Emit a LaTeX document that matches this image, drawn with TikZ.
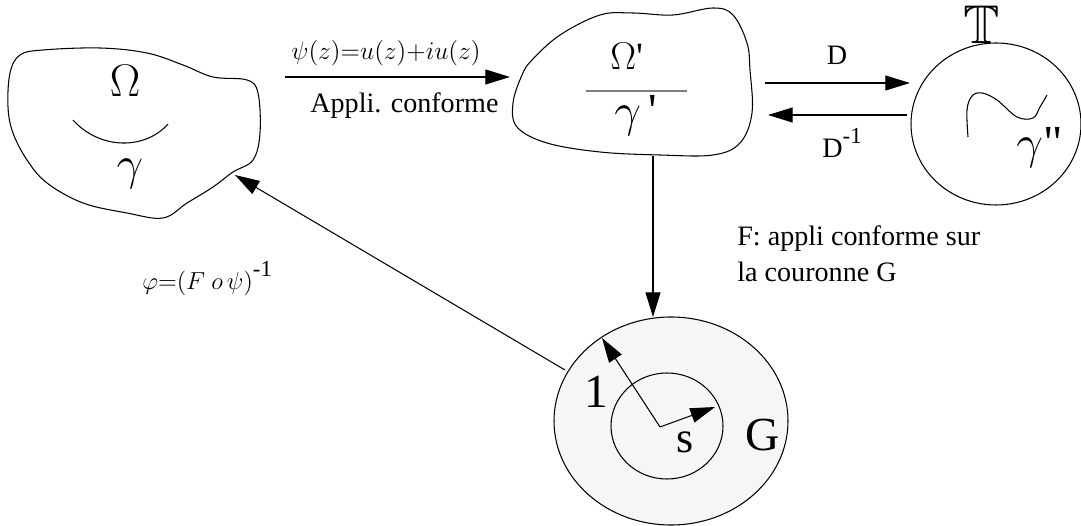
\RequirePackage{fix-cm}
\documentclass[tikz,border=0pt]{standalone}
\usepackage{amsmath,amssymb}
\usepackage{fontspec}
\setmainfont{Liberation Serif}
\usetikzlibrary{arrows.meta}
\definecolor{ringgray}{HTML}{F6F6F6}
\definecolor{bargray}{HTML}{808080}
\tikzset{
  outline/.style={line width=0.6pt,draw=black},
  map/.style={-{Triangle[length=14pt,width=8.5pt]},line width=0.6pt},
  bigsym/.style={inner sep=0pt,anchor=base,font=\fontsize{20}{20}\selectfont},
  greek/.style={inner sep=0pt,anchor=base west,font=\fontsize{20}{20}\selectfont},
  biglbl/.style={inner sep=0pt,anchor=base,font=\fontsize{27}{27}\selectfont},
  maplbl/.style={inner sep=0pt,anchor=base west,font=\fontsize{16}{16}\selectfont},
  note/.style={inner sep=0pt,anchor=base west,align=left,
    font=\fontsize{16}{21}\selectfont}
}

\begin{document}
\begin{tikzpicture}[x=0.02cm,y=-0.02cm]
  \useasboundingbox (0,0) rectangle (1081,526);
  % the domains
  \draw[outline] plot[smooth cycle,tension=0.6] coordinates {(10,73) (20,55) (43,50) (100,48)
    (147,53) (183,65) (213,77) (247,80) (258,93) (260,133) (253,160) (233,172) (213,187)
    (187,203) (163,218) (127,213) (83,203) (47,183) (27,160) (13,133) (8,107)};
  \draw[outline] plot[smooth cycle,tension=0.6] coordinates {(532,60) (560,35) (600,15) (633,13)
    (673,15) (713,8) (733,15) (747,43) (750,70) (752,113) (740,143) (713,155) (660,155)
    (600,152) (547,143) (517,127) (513,103) (522,75)};
  \draw[outline] (996,124) ellipse [x radius=85,y radius=81];
  \filldraw[outline,fill=ringgray] (671,421) ellipse [x radius=117,y radius=104];
  \draw[outline] (667,426) ellipse [x radius=56,y radius=53];
  \draw[outline] (73,120) .. controls (100,150) and (145,150) .. (168,124);
  \draw[outline] plot[smooth,tension=0.6] coordinates {(968,137) (967,110) (972,96) (982,93)
    (997,100) (1017,117) (1033,118) (1040,107) (1047,95)};
  \draw[bargray,line width=0.9pt] (586,91) -- (687,91);

  \node[bigsym] (omega) at (125,97) {\scalebox{1.3}{$\Omega$}};
  \node[greek,anchor=base] (gamma) at (130,180) {\scalebox{1.35}{$\gamma$}};
  \node[bigsym,anchor=base west] (omegap) at (610,70) {\scalebox{1.1}{$\Omega$\textquotesingle}};
  \node[greek] (gammap) at (614,127) {\scalebox{1.35}{$\gamma$\,\textquotesingle}};
  \node[greek] (gammas) at (1016,159) {\scalebox{1.35}{$\gamma$\textquotedbl}};
  \node[biglbl] (torus) at (982,44) {\scalebox{1.15}{$\mathbb{T}$}};
  \node[biglbl] (one) at (596,408) {1};
  \node[biglbl,font=\fontsize{25}{25}\selectfont] (s) at (685,452) {s};
  \node[biglbl] (G) at (763,450) {G};

  \node[inner sep=0pt,anchor=base,font=\fontsize{14.5}{14.5}\selectfont] (psi) at (386,60)
    {$\psi(z){=}u(z){+}iu(z)$};
  \node[maplbl] (appli) at (310,113) {Appli. conforme};
  \node[maplbl,anchor=base] (D) at (837,65) {D};
  \node[maplbl] (Dinv) at (822,158) {D\raisebox{0.5em}{\fontsize{13}{13}\selectfont -1}};
  \node[inner sep=0pt,anchor=base west,font=\fontsize{14}{14}\selectfont] (phi) at (142,290)
    {$\varphi{=}(F\ o\,\psi)$\raisebox{0.55em}{\fontsize{13}{13}\selectfont -1}};
  \node[note] (fnote) at (737,282) {F: appli conforme sur\\la couronne G};

  \coordinate (psiA) at (285,77);
  \coordinate (psiB) at (510,77);
  \coordinate (dA) at (765,83);
  \coordinate (dB) at (910,83);
  \coordinate (diA) at (907,115);
  \coordinate (diB) at (768,115);
  \coordinate (down) at (653,156);
  \coordinate (ringtop) at (653,317);
  \coordinate (ringleft) at (565,370);
  \coordinate (blobin) at (235,175);
  \coordinate (ctr) at (660,427);
  \coordinate (rone) at (602,338);
  \coordinate (rs) at (715,407);

  \draw[map] (psiA) -- (psiB);
  \draw[map] (dA) -- (dB);
  \draw[map] (diA) -- (diB);
  \draw[map] (down) -- (ringtop);
  \draw[map] (ringleft) -- (blobin);
  \draw[map] (ctr) -- (rone);
  \draw[map] (ctr) -- (rs);
\end{tikzpicture}
\end{document}
